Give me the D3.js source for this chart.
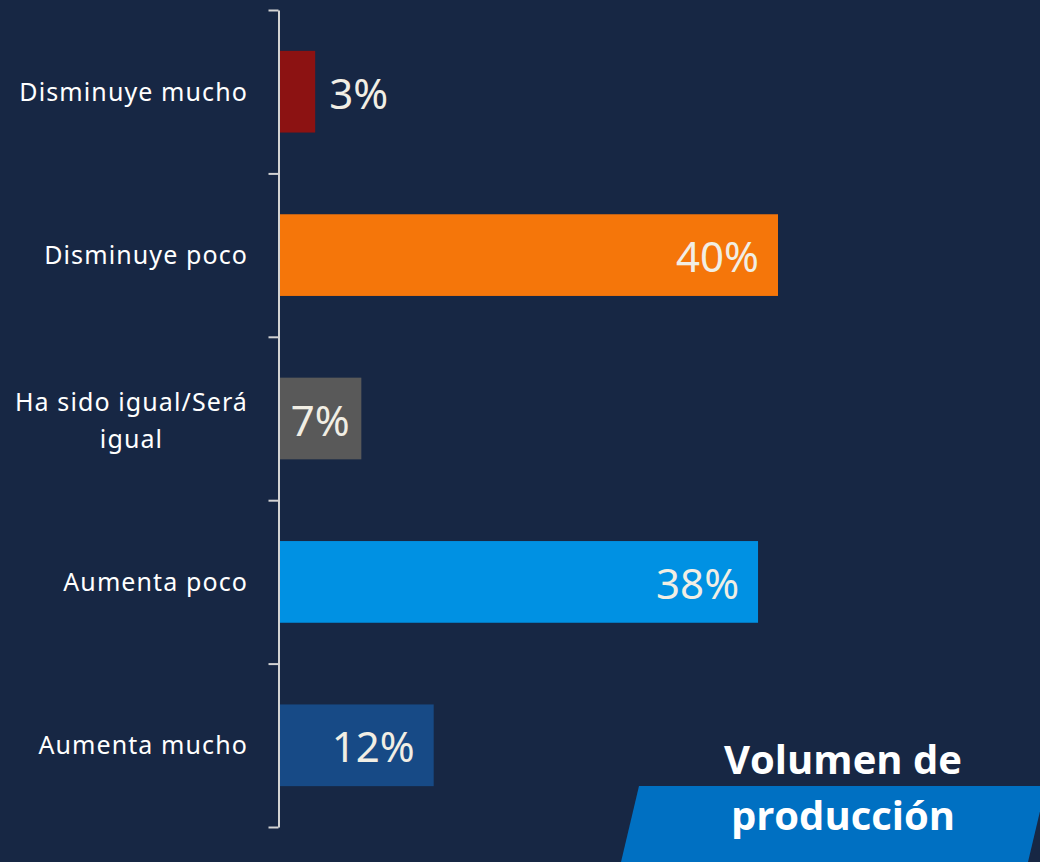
<!DOCTYPE html>
<html>
<head>
<meta charset="utf-8">
<script src="https://cdn.jsdelivr.net/npm/d3@7"></script>
<style>
  html, body { margin: 0; padding: 0; background: #172744; }
  svg { display: block; }
</style>
</head>
<body>
<script>
var categories = ["Disminuye mucho", "Disminuye poco", "Ha sido igual/Será igual", "Aumenta poco", "Aumenta mucho"];
var values = [2.9, 40.0, 6.6, 38.4, 12.4]; // percent
var valueLabels = ["3%", "40%", "7%", "38%", "12%"];
var barColors = ["#8c1212", "#f5760a", "#595959", "#0091e3", "#174a86"];
var titleLines = ["Volumen de", "producción"];

var width = 1040, height = 862;

var svg = d3.select("body").append("svg")
	.attr("width", width)
	.attr("height", height);

svg.append("rect") //background
	.attr("width", width)
	.attr("height", height)
	.attr("fill", "#172744");

var rows = categories.map(function (c, i) {
	return { cat: c, value: values[i], label: valueLabels[i], color: barColors[i] };
});

var x = d3.scaleLinear().domain([0, 40]).range([279, 778]);
var y = d3.scaleBand().domain(categories).range([10, 827])
	.paddingInner(0.5).paddingOuter(0.25);

// category axis: ticks sit between the categories
var yEdges = d3.scaleLinear().domain([0, categories.length]).range([10, 827]);
var axis = svg.append("g")
	.attr("transform", "translate(278.5,0)")
	.call(d3.axisLeft(yEdges).tickValues(d3.range(categories.length + 1)).tickSize(10).tickSizeOuter(0).tickFormat(""));
axis.selectAll("path, line").attr("stroke", "#d3d3d3").attr("stroke-width", 2);

// bars
svg.selectAll("rect.bar")
	.data(rows)
	.enter()
	.append("rect")
	.attr("class", "bar")
	.attr("x", x(0) + 1)
	.attr("y", function (d) { return y(d.cat); })
	.attr("width", function (d) { return x(d.value) - x(0) - 1; })
	.attr("height", y.bandwidth())
	.attr("fill", function (d) { return d.color; });

// category labels, wrapped
var catText = svg.selectAll("text.cat")
	.data(rows)
	.enter()
	.append("text")
	.attr("class", "cat")
	.attr("font-family", "'Noto Sans', 'Open Sans', sans-serif")
	.attr("font-size", 25)
	.attr("letter-spacing", 1.1)
	.attr("fill", "#ffffff")
	.attr("text-anchor", "end");

catText.each(function (d) {
	var t = d3.select(this);
	var words = d.cat.split(" ");
	var lines = [], line = [];
	var probe = t.append("tspan");
	words.forEach(function (w) {
		line.push(w);
		probe.text(line.join(" "));
		if (probe.node().getComputedTextLength() > 245 && line.length > 1) {
			line.pop();
			lines.push(line.join(" "));
			line = [w];
		}
	});
	lines.push(line.join(" "));
	probe.remove();
	var cy = y(d.cat) + y.bandwidth() / 2;
	var lh = 37;
	var shift = lines.length > 1 ? 2 : 0;
	var first = null;
	lines.forEach(function (l, i) {
		var ts = t.append("tspan")
			.attr("x", 248)
			.attr("y", cy + 9 + shift + (i - (lines.length - 1) / 2) * lh)
			.text(l);
		if (i === 0) first = ts;
		else {
			// later lines centred under the first one
			var w0 = first.node().getComputedTextLength();
			ts.attr("text-anchor", "middle").attr("x", 248 - w0 / 2);
		}
	});
});

// value labels
svg.selectAll("text.val")
	.data(rows)
	.enter()
	.append("text")
	.attr("class", "val")
	.attr("font-family", "'Noto Sans', 'Open Sans', sans-serif")
	.attr("font-size", 42)
	.attr("fill", "#f1eee4")
	.attr("y", function (d) { return y(d.cat) + y.bandwidth() / 2 + 17; })
	.text(function (d) { return d.label; })
	.each(function (d) {
		var t = d3.select(this);
		var tw = this.getComputedTextLength();
		var bw = x(d.value) - x(0);
		if (bw < tw + 10) {
			t.attr("text-anchor", "start").attr("x", x(d.value) + 14); // outside end
		} else {
			var inset = Math.min(19, (bw - tw) / 2);
			t.attr("text-anchor", "end").attr("x", x(d.value) - inset);
		}
	});

// title box
svg.append("path")
	.attr("d", "M639,786 L1046,786 L1028,862 L621,862 Z")
	.attr("fill", "#0070c2");

svg.selectAll("text.title")
	.data(titleLines)
	.enter()
	.append("text")
	.attr("class", "title")
	.attr("x", 843)
	.attr("y", function (d, i) { return 774 + i * 56; })
	.attr("text-anchor", "middle")
	.attr("font-family", "'Open Sans', 'Noto Sans', sans-serif")
	.attr("font-weight", "bold")
	.attr("font-size", 40)
	.attr("fill", "#ffffff")
	.text(function (d) { return d; });
</script>
</body>
</html>
